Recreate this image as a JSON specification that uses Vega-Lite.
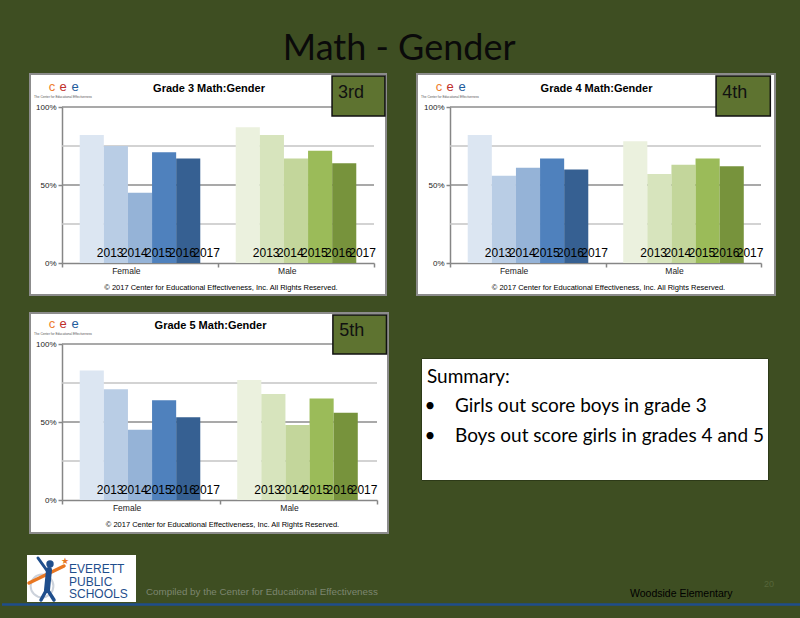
{
  "$schema": "https://vega.github.io/schema/vega-lite/v6.json",
  "background": "#3e4e22",
  "padding": {"top": 31, "left": 0, "right": 0, "bottom": 0},
  "title": {"text": "Math - Gender", "font": "Lato", "fontSize": 36, "fontWeight": "normal", "color": "#0a0a0a", "anchor": "start", "dx": 282, "offset": 5},
  "config": {
    "view": {"stroke": null},
    "text": {"font": "Liberation Sans"},
    "axis": {"domainColor": "#868686", "domainWidth": 1.5, "tickColor": "#868686", "tickWidth": 1.5, "tickSize": 4, "labelColor": "#1a1a1a", "labelFont": "Liberation Sans", "grid": false, "zindex": 1}
  },
  "datasets": {
    "scores": [
      {"grade": 3, "gender": "Female", "year": "2013", "pct": 0.82},
      {"grade": 3, "gender": "Female", "year": "2014", "pct": 0.75},
      {"grade": 3, "gender": "Female", "year": "2015", "pct": 0.45},
      {"grade": 3, "gender": "Female", "year": "2016", "pct": 0.71},
      {"grade": 3, "gender": "Female", "year": "2017", "pct": 0.67},
      {"grade": 3, "gender": "Male", "year": "2013", "pct": 0.87},
      {"grade": 3, "gender": "Male", "year": "2014", "pct": 0.82},
      {"grade": 3, "gender": "Male", "year": "2015", "pct": 0.67},
      {"grade": 3, "gender": "Male", "year": "2016", "pct": 0.72},
      {"grade": 3, "gender": "Male", "year": "2017", "pct": 0.64},
      {"grade": 4, "gender": "Female", "year": "2013", "pct": 0.82},
      {"grade": 4, "gender": "Female", "year": "2014", "pct": 0.56},
      {"grade": 4, "gender": "Female", "year": "2015", "pct": 0.61},
      {"grade": 4, "gender": "Female", "year": "2016", "pct": 0.67},
      {"grade": 4, "gender": "Female", "year": "2017", "pct": 0.60},
      {"grade": 4, "gender": "Male", "year": "2013", "pct": 0.78},
      {"grade": 4, "gender": "Male", "year": "2014", "pct": 0.57},
      {"grade": 4, "gender": "Male", "year": "2015", "pct": 0.63},
      {"grade": 4, "gender": "Male", "year": "2016", "pct": 0.67},
      {"grade": 4, "gender": "Male", "year": "2017", "pct": 0.62},
      {"grade": 5, "gender": "Female", "year": "2013", "pct": 0.83},
      {"grade": 5, "gender": "Female", "year": "2014", "pct": 0.71},
      {"grade": 5, "gender": "Female", "year": "2015", "pct": 0.45},
      {"grade": 5, "gender": "Female", "year": "2016", "pct": 0.64},
      {"grade": 5, "gender": "Female", "year": "2017", "pct": 0.53},
      {"grade": 5, "gender": "Male", "year": "2013", "pct": 0.77},
      {"grade": 5, "gender": "Male", "year": "2014", "pct": 0.68},
      {"grade": 5, "gender": "Male", "year": "2015", "pct": 0.48},
      {"grade": 5, "gender": "Male", "year": "2016", "pct": 0.65},
      {"grade": 5, "gender": "Male", "year": "2017", "pct": 0.56}
    ]
  },
  "spacing": 16,
  "vconcat": [
    {
      "hconcat": [
        {"width": 27, "height": 10, "data": {"values": []}, "mark": "point", "encoding": {}},
        {
          "width": 356, "height": 221,
          "view": {"fill": "#ffffff", "stroke": "#8c8c8c", "strokeWidth": 2},
          "resolve": {"scale": {"color": "independent"}},
          "layer": [
            {"data": {"values": [{"level": 0.25}, {"level": 0.75}]},
             "mark": {"type": "rule", "color": "#c4c4c4", "strokeWidth": 1.5},
             "encoding": {"x": {"datum": "Female", "type": "nominal", "bandPosition": 0}, "x2": {"datum": "Male", "bandPosition": 1}, "y": {"field": "level", "type": "quantitative"}}},
            {"data": {"values": [{"level": 0.5}, {"level": 1}]},
             "mark": {"type": "rule", "color": "#8c8c8c", "strokeWidth": 1.5},
             "encoding": {"x": {"datum": "Female", "type": "nominal", "bandPosition": 0}, "x2": {"datum": "Male", "bandPosition": 1}, "y": {"field": "level", "type": "quantitative"}}},
            {"data": {"name": "scores"},
             "transform": [{"filter": "datum.grade == 3 && datum.gender == 'Female'"}],
             "mark": "bar",
             "encoding": {
               "x": {"field": "gender", "type": "nominal", "scale": {"type": "band", "domain": ["Female", "Male"], "range": [32, 344], "paddingInner": 0, "paddingOuter": 0}, "axis": {"title": null, "offset": -32, "tickBand": "extent", "labelAngle": 0, "labelFontSize": 8.5, "labelPadding": 3}},
               "xOffset": {"field": "year", "type": "nominal", "scale": {"paddingInner": 0, "paddingOuter": 0.735}},
               "y": {"field": "pct", "type": "quantitative", "scale": {"domain": [0, 1], "range": [189, 33], "nice": false}, "axis": {"title": null, "offset": -32, "values": [0, 0.5, 1], "format": ".0%", "labelFontSize": 8, "labelPadding": 2}},
               "color": {"field": "year", "type": "nominal", "scale": {"range": ["#dce6f2", "#b9cde5", "#95b3d7", "#4f81bd", "#366092"]}, "legend": null}}},
            {"data": {"name": "scores"},
             "transform": [{"filter": "datum.grade == 3 && datum.gender == 'Male'"}],
             "mark": "bar",
             "encoding": {
               "x": {"field": "gender", "type": "nominal"},
               "xOffset": {"field": "year", "type": "nominal"},
               "y": {"field": "pct", "type": "quantitative"},
               "color": {"field": "year", "type": "nominal", "scale": {"range": ["#ebf1de", "#d7e4bd", "#c3d69b", "#9bbb59", "#77933c"]}, "legend": null}}},
            {"data": {"name": "scores"},
             "transform": [{"filter": "datum.grade == 3"}],
             "mark": {"type": "text", "align": "left", "baseline": "alphabetic", "dx": 5, "dy": -6, "fontSize": 12, "color": "#000000"},
             "encoding": {"x": {"field": "gender", "type": "nominal"}, "xOffset": {"field": "year", "type": "nominal"}, "y": {"datum": 0, "type": "quantitative"}, "text": {"field": "year"}}},
            {"data": {"values": [{}]},
             "mark": {"type": "text", "fontWeight": "bold", "fontSize": 11, "baseline": "middle", "dx": -9, "color": "#000000"},
             "encoding": {"x": {"datum": "Male", "type": "nominal", "bandPosition": 0}, "y": {"datum": 1.115, "type": "quantitative"}, "text": {"value": "Grade 3 Math:Gender"}}},
            {"data": {"values": [{}]},
             "mark": {"type": "text", "fontSize": 7.5, "baseline": "middle", "dx": 3, "color": "#000000"},
             "encoding": {"x": {"datum": "Male", "type": "nominal", "bandPosition": 0}, "y": {"datum": -0.16, "type": "quantitative"}, "text": {"value": "© 2017 Center for Educational Effectiveness, Inc. All Rights Reserved."}}},
            {"data": {"values": [{}]},
             "mark": {"type": "text", "fontSize": 13, "baseline": "middle", "dx": -10, "color": "#ee7d2e"},
             "encoding": {"x": {"datum": "Female", "type": "nominal", "bandPosition": 0}, "y": {"datum": 1.131, "type": "quantitative"}, "text": {"value": "c"}}},
            {"data": {"values": [{}]},
             "mark": {"type": "text", "fontSize": 13, "baseline": "middle", "dx": 1, "color": "#c0302b"},
             "encoding": {"x": {"datum": "Female", "type": "nominal", "bandPosition": 0}, "y": {"datum": 1.131, "type": "quantitative"}, "text": {"value": "e"}}},
            {"data": {"values": [{}]},
             "mark": {"type": "text", "fontSize": 13, "baseline": "middle", "dx": 13, "color": "#1f5c9c"},
             "encoding": {"x": {"datum": "Female", "type": "nominal", "bandPosition": 0}, "y": {"datum": 1.131, "type": "quantitative"}, "text": {"value": "e"}}},
            {"data": {"values": [{}]},
             "mark": {"type": "text", "fontSize": 3.2, "align": "left", "baseline": "middle", "dx": -28, "color": "#555555"},
             "encoding": {"x": {"datum": "Female", "type": "nominal", "bandPosition": 0}, "y": {"datum": 1.067, "type": "quantitative"}, "text": {"value": "The Center for Educational Effectiveness"}}},
            {"data": {"values": [{}]},
             "mark": {"type": "rect", "fill": "#5e7330", "stroke": "#111111", "strokeWidth": 1.5},
             "encoding": {"x": {"datum": "Male", "type": "nominal", "bandPosition": 0.731}, "x2": {"datum": "Male", "bandPosition": 1.07}, "y": {"datum": 1.199, "type": "quantitative"}, "y2": {"datum": 0.942}}},
            {"data": {"values": [{}]},
             "mark": {"type": "text", "fontSize": 18, "align": "left", "baseline": "alphabetic", "color": "#111111"},
             "encoding": {"x": {"datum": "Male", "type": "nominal", "bandPosition": 0.769}, "y": {"datum": 1.058, "type": "quantitative"}, "text": {"value": "3rd"}}}
          ]
        },
        {"width": 29, "height": 10, "data": {"values": []}, "mark": "point", "encoding": {}},
        {
          "width": 358, "height": 221,
          "view": {"fill": "#ffffff", "stroke": "#8c8c8c", "strokeWidth": 2},
          "resolve": {"scale": {"color": "independent"}},
          "layer": [
            {"data": {"values": [{"level": 0.25}, {"level": 0.75}]},
             "mark": {"type": "rule", "color": "#c4c4c4", "strokeWidth": 1.5},
             "encoding": {"x": {"datum": "Female", "type": "nominal", "bandPosition": 0}, "x2": {"datum": "Male", "bandPosition": 1}, "y": {"field": "level", "type": "quantitative"}}},
            {"data": {"values": [{"level": 0.5}, {"level": 1}]},
             "mark": {"type": "rule", "color": "#8c8c8c", "strokeWidth": 1.5},
             "encoding": {"x": {"datum": "Female", "type": "nominal", "bandPosition": 0}, "x2": {"datum": "Male", "bandPosition": 1}, "y": {"field": "level", "type": "quantitative"}}},
            {"data": {"name": "scores"},
             "transform": [{"filter": "datum.grade == 4 && datum.gender == 'Female'"}],
             "mark": "bar",
             "encoding": {
               "x": {"field": "gender", "type": "nominal", "scale": {"type": "band", "domain": ["Female", "Male"], "range": [33, 344], "paddingInner": 0, "paddingOuter": 0}, "axis": {"title": null, "offset": -32, "tickBand": "extent", "labelAngle": 0, "labelFontSize": 8.5, "labelPadding": 3}},
               "xOffset": {"field": "year", "type": "nominal", "scale": {"paddingInner": 0, "paddingOuter": 0.735}},
               "y": {"field": "pct", "type": "quantitative", "scale": {"domain": [0, 1], "range": [189, 33], "nice": false}, "axis": {"title": null, "offset": -33, "values": [0, 0.5, 1], "format": ".0%", "labelFontSize": 8, "labelPadding": 2}},
               "color": {"field": "year", "type": "nominal", "scale": {"range": ["#dce6f2", "#b9cde5", "#95b3d7", "#4f81bd", "#366092"]}, "legend": null}}},
            {"data": {"name": "scores"},
             "transform": [{"filter": "datum.grade == 4 && datum.gender == 'Male'"}],
             "mark": "bar",
             "encoding": {
               "x": {"field": "gender", "type": "nominal"},
               "xOffset": {"field": "year", "type": "nominal"},
               "y": {"field": "pct", "type": "quantitative"},
               "color": {"field": "year", "type": "nominal", "scale": {"range": ["#ebf1de", "#d7e4bd", "#c3d69b", "#9bbb59", "#77933c"]}, "legend": null}}},
            {"data": {"name": "scores"},
             "transform": [{"filter": "datum.grade == 4"}],
             "mark": {"type": "text", "align": "left", "baseline": "alphabetic", "dx": 5, "dy": -6, "fontSize": 12, "color": "#000000"},
             "encoding": {"x": {"field": "gender", "type": "nominal"}, "xOffset": {"field": "year", "type": "nominal"}, "y": {"datum": 0, "type": "quantitative"}, "text": {"field": "year"}}},
            {"data": {"values": [{}]},
             "mark": {"type": "text", "fontWeight": "bold", "fontSize": 11, "baseline": "middle", "dx": -9, "color": "#000000"},
             "encoding": {"x": {"datum": "Male", "type": "nominal", "bandPosition": 0}, "y": {"datum": 1.115, "type": "quantitative"}, "text": {"value": "Grade 4 Math:Gender"}}},
            {"data": {"values": [{}]},
             "mark": {"type": "text", "fontSize": 7.5, "baseline": "middle", "dx": 3, "color": "#000000"},
             "encoding": {"x": {"datum": "Male", "type": "nominal", "bandPosition": 0}, "y": {"datum": -0.16, "type": "quantitative"}, "text": {"value": "© 2017 Center for Educational Effectiveness, Inc. All Rights Reserved."}}},
            {"data": {"values": [{}]},
             "mark": {"type": "text", "fontSize": 13, "baseline": "middle", "dx": -11, "color": "#ee7d2e"},
             "encoding": {"x": {"datum": "Female", "type": "nominal", "bandPosition": 0}, "y": {"datum": 1.131, "type": "quantitative"}, "text": {"value": "c"}}},
            {"data": {"values": [{}]},
             "mark": {"type": "text", "fontSize": 13, "baseline": "middle", "dx": 0, "color": "#c0302b"},
             "encoding": {"x": {"datum": "Female", "type": "nominal", "bandPosition": 0}, "y": {"datum": 1.131, "type": "quantitative"}, "text": {"value": "e"}}},
            {"data": {"values": [{}]},
             "mark": {"type": "text", "fontSize": 13, "baseline": "middle", "dx": 12, "color": "#1f5c9c"},
             "encoding": {"x": {"datum": "Female", "type": "nominal", "bandPosition": 0}, "y": {"datum": 1.131, "type": "quantitative"}, "text": {"value": "e"}}},
            {"data": {"values": [{}]},
             "mark": {"type": "text", "fontSize": 3.2, "align": "left", "baseline": "middle", "dx": -29, "color": "#555555"},
             "encoding": {"x": {"datum": "Female", "type": "nominal", "bandPosition": 0}, "y": {"datum": 1.067, "type": "quantitative"}, "text": {"value": "The Center for Educational Effectiveness"}}},
            {"data": {"values": [{}]},
             "mark": {"type": "rect", "fill": "#5e7330", "stroke": "#111111", "strokeWidth": 1.5},
             "encoding": {"x": {"datum": "Male", "type": "nominal", "bandPosition": 0.711}, "x2": {"datum": "Male", "bandPosition": 1.06}, "y": {"datum": 1.199, "type": "quantitative"}, "y2": {"datum": 0.942}}},
            {"data": {"values": [{}]},
             "mark": {"type": "text", "fontSize": 18, "align": "left", "baseline": "alphabetic", "color": "#111111"},
             "encoding": {"x": {"datum": "Male", "type": "nominal", "bandPosition": 0.75}, "y": {"datum": 1.058, "type": "quantitative"}, "text": {"value": "4th"}}}
          ]
        }
      ],
      "spacing": 0
    },
    {
      "hconcat": [
        {"width": 27, "height": 10, "data": {"values": []}, "mark": "point", "encoding": {}},
        {
          "width": 358, "height": 220,
          "view": {"fill": "#ffffff", "stroke": "#8c8c8c", "strokeWidth": 2},
          "resolve": {"scale": {"color": "independent"}},
          "layer": [
            {"data": {"values": [{"level": 0.25}, {"level": 0.75}]},
             "mark": {"type": "rule", "color": "#c4c4c4", "strokeWidth": 1.5},
             "encoding": {"x": {"datum": "Female", "type": "nominal", "bandPosition": 0}, "x2": {"datum": "Male", "bandPosition": 1}, "y": {"field": "level", "type": "quantitative"}}},
            {"data": {"values": [{"level": 0.5}, {"level": 1}]},
             "mark": {"type": "rule", "color": "#8c8c8c", "strokeWidth": 1.5},
             "encoding": {"x": {"datum": "Female", "type": "nominal", "bandPosition": 0}, "x2": {"datum": "Male", "bandPosition": 1}, "y": {"field": "level", "type": "quantitative"}}},
            {"data": {"name": "scores"},
             "transform": [{"filter": "datum.grade == 5 && datum.gender == 'Female'"}],
             "mark": "bar",
             "encoding": {
               "x": {"field": "gender", "type": "nominal", "scale": {"type": "band", "domain": ["Female", "Male"], "range": [32, 347], "paddingInner": 0, "paddingOuter": 0}, "axis": {"title": null, "offset": -33, "tickBand": "extent", "labelAngle": 0, "labelFontSize": 8.5, "labelPadding": 3}},
               "xOffset": {"field": "year", "type": "nominal", "scale": {"paddingInner": 0, "paddingOuter": 0.735}},
               "y": {"field": "pct", "type": "quantitative", "scale": {"domain": [0, 1], "range": [187, 31], "nice": false}, "axis": {"title": null, "offset": -32, "values": [0, 0.5, 1], "format": ".0%", "labelFontSize": 8, "labelPadding": 2}},
               "color": {"field": "year", "type": "nominal", "scale": {"range": ["#dce6f2", "#b9cde5", "#95b3d7", "#4f81bd", "#366092"]}, "legend": null}}},
            {"data": {"name": "scores"},
             "transform": [{"filter": "datum.grade == 5 && datum.gender == 'Male'"}],
             "mark": "bar",
             "encoding": {
               "x": {"field": "gender", "type": "nominal"},
               "xOffset": {"field": "year", "type": "nominal"},
               "y": {"field": "pct", "type": "quantitative"},
               "color": {"field": "year", "type": "nominal", "scale": {"range": ["#ebf1de", "#d7e4bd", "#c3d69b", "#9bbb59", "#77933c"]}, "legend": null}}},
            {"data": {"name": "scores"},
             "transform": [{"filter": "datum.grade == 5"}],
             "mark": {"type": "text", "align": "left", "baseline": "alphabetic", "dx": 5, "dy": -6, "fontSize": 12, "color": "#000000"},
             "encoding": {"x": {"field": "gender", "type": "nominal"}, "xOffset": {"field": "year", "type": "nominal"}, "y": {"datum": 0, "type": "quantitative"}, "text": {"field": "year"}}},
            {"data": {"values": [{}]},
             "mark": {"type": "text", "fontWeight": "bold", "fontSize": 11, "baseline": "middle", "dx": -9, "color": "#000000"},
             "encoding": {"x": {"datum": "Male", "type": "nominal", "bandPosition": 0}, "y": {"datum": 1.115, "type": "quantitative"}, "text": {"value": "Grade 5 Math:Gender"}}},
            {"data": {"values": [{}]},
             "mark": {"type": "text", "fontSize": 7.5, "baseline": "middle", "dx": 3, "color": "#000000"},
             "encoding": {"x": {"datum": "Male", "type": "nominal", "bandPosition": 0}, "y": {"datum": -0.16, "type": "quantitative"}, "text": {"value": "© 2017 Center for Educational Effectiveness, Inc. All Rights Reserved."}}},
            {"data": {"values": [{}]},
             "mark": {"type": "text", "fontSize": 13, "baseline": "middle", "dx": -10, "color": "#ee7d2e"},
             "encoding": {"x": {"datum": "Female", "type": "nominal", "bandPosition": 0}, "y": {"datum": 1.131, "type": "quantitative"}, "text": {"value": "c"}}},
            {"data": {"values": [{}]},
             "mark": {"type": "text", "fontSize": 13, "baseline": "middle", "dx": 1, "color": "#c0302b"},
             "encoding": {"x": {"datum": "Female", "type": "nominal", "bandPosition": 0}, "y": {"datum": 1.131, "type": "quantitative"}, "text": {"value": "e"}}},
            {"data": {"values": [{}]},
             "mark": {"type": "text", "fontSize": 13, "baseline": "middle", "dx": 13, "color": "#1f5c9c"},
             "encoding": {"x": {"datum": "Female", "type": "nominal", "bandPosition": 0}, "y": {"datum": 1.131, "type": "quantitative"}, "text": {"value": "e"}}},
            {"data": {"values": [{}]},
             "mark": {"type": "text", "fontSize": 3.2, "align": "left", "baseline": "middle", "dx": -28, "color": "#555555"},
             "encoding": {"x": {"datum": "Female", "type": "nominal", "bandPosition": 0}, "y": {"datum": 1.067, "type": "quantitative"}, "text": {"value": "The Center for Educational Effectiveness"}}},
            {"data": {"values": [{}]},
             "mark": {"type": "rect", "fill": "#5e7330", "stroke": "#111111", "strokeWidth": 1.5},
             "encoding": {"x": {"datum": "Male", "type": "nominal", "bandPosition": 0.72}, "x2": {"datum": "Male", "bandPosition": 1.06}, "y": {"datum": 1.186, "type": "quantitative"}, "y2": {"datum": 0.936}}},
            {"data": {"values": [{}]},
             "mark": {"type": "text", "fontSize": 18, "align": "left", "baseline": "alphabetic", "color": "#111111"},
             "encoding": {"x": {"datum": "Male", "type": "nominal", "bandPosition": 0.76}, "y": {"datum": 1.05, "type": "quantitative"}, "text": {"value": "5th"}}}
          ]
        },
        {"width": 31, "height": 10, "data": {"values": []}, "mark": "point", "encoding": {}},
        {
          "vconcat": [
            {"width": 10, "height": 44, "data": {"values": []}, "mark": "point", "encoding": {}},
            {
              "width": 347, "height": 122,
              "view": {"fill": "#ffffff", "stroke": "#2d3a18", "strokeWidth": 1},
              "data": {"values": [
                {"n": 1, "line": "Summary:"},
                {"n": 2, "line": "Girls out score boys in grade 3"},
                {"n": 3, "line": "Boys out score girls in grades 4 and 5"}
              ]},
              "layer": [
                {"transform": [{"filter": "datum.n == 1"}],
                 "mark": {"type": "text", "align": "left", "baseline": "alphabetic", "font": "Lato", "fontSize": 19, "color": "#000000"},
                 "encoding": {"x": {"datum": 6, "type": "quantitative", "scale": {"domain": [0, 347], "nice": false, "zero": false}, "axis": null},
                              "y": {"field": "n", "type": "quantitative", "scale": {"domain": [0.153, 4.289], "reverse": true, "nice": false, "zero": false}, "axis": null},
                              "text": {"field": "line"}}},
                {"transform": [{"filter": "datum.n > 1"}],
                 "mark": {"type": "text", "align": "center", "baseline": "alphabetic", "font": "Lato", "fontSize": 19, "color": "#000000"},
                 "encoding": {"x": {"datum": 9, "type": "quantitative"},
                              "y": {"field": "n", "type": "quantitative"},
                              "text": {"value": "•"}}},
                {"transform": [{"filter": "datum.n > 1"}],
                 "mark": {"type": "text", "align": "left", "baseline": "alphabetic", "font": "Lato", "fontSize": 19, "color": "#000000"},
                 "encoding": {"x": {"datum": 34, "type": "quantitative"},
                              "y": {"field": "n", "type": "quantitative"},
                              "text": {"field": "line"}}}
              ]
            }
          ],
          "spacing": 0
        }
      ],
      "spacing": 0
    },
    {
      "width": 800, "height": 69,
      "layer": [
        {"data": {"values": [{}]},
         "mark": {"type": "rule", "color": "#1f4e8c", "strokeWidth": 2.5},
         "encoding": {"x": {"datum": 0, "type": "quantitative", "scale": {"domain": [0, 800], "nice": false, "zero": false}, "axis": null}, "x2": {"datum": 800},
                      "y": {"datum": 603.5, "type": "quantitative", "scale": {"domain": [549, 618], "reverse": true, "nice": false, "zero": false}, "axis": null}}},
        {"data": {"values": [{}]},
         "mark": {"type": "rect", "fill": "#ffffff"},
         "encoding": {"x": {"datum": 25, "type": "quantitative"}, "x2": {"datum": 134}, "y": {"datum": 554, "type": "quantitative"}, "y2": {"datum": 601}}},
        {"data": {"values": [{}]},
         "mark": {"type": "point", "filled": false, "stroke": "#b7bfcc", "strokeWidth": 2, "size": 520},
         "encoding": {"x": {"datum": 40, "type": "quantitative"}, "y": {"datum": 585, "type": "quantitative"}}},
        {"data": {"values": [{}]},
         "mark": {"type": "rule", "color": "#e87722", "strokeWidth": 3.5, "strokeCap": "round"},
         "encoding": {"x": {"datum": 27, "type": "quantitative"}, "x2": {"datum": 62}, "y": {"datum": 582, "type": "quantitative"}, "y2": {"datum": 565}}},
        {"data": {"values": [{}]},
         "mark": {"type": "rule", "color": "#1f4e8c", "strokeWidth": 6, "strokeCap": "round"},
         "encoding": {"x": {"datum": 47, "type": "quantitative"}, "x2": {"datum": 45}, "y": {"datum": 569, "type": "quantitative"}, "y2": {"datum": 589}}},
        {"data": {"values": [{}]},
         "mark": {"type": "rule", "color": "#1f4e8c", "strokeWidth": 3.5, "strokeCap": "round"},
         "encoding": {"x": {"datum": 45, "type": "quantitative"}, "x2": {"datum": 39}, "y": {"datum": 588, "type": "quantitative"}, "y2": {"datum": 599}}},
        {"data": {"values": [{}]},
         "mark": {"type": "rule", "color": "#1f4e8c", "strokeWidth": 3.5, "strokeCap": "round"},
         "encoding": {"x": {"datum": 45, "type": "quantitative"}, "x2": {"datum": 52}, "y": {"datum": 588, "type": "quantitative"}, "y2": {"datum": 599}}},
        {"data": {"values": [{}]},
         "mark": {"type": "rule", "color": "#1f4e8c", "strokeWidth": 3, "strokeCap": "round"},
         "encoding": {"x": {"datum": 36, "type": "quantitative"}, "x2": {"datum": 46}, "y": {"datum": 557, "type": "quantitative"}, "y2": {"datum": 571}}},
        {"data": {"values": [{}]},
         "mark": {"type": "point", "filled": true, "color": "#1f4e8c", "opacity": 1, "size": 55},
         "encoding": {"x": {"datum": 48, "type": "quantitative"}, "y": {"datum": 563, "type": "quantitative"}}},
        {"data": {"values": [{}]},
         "mark": {"type": "text", "fontSize": 9, "color": "#e87722", "baseline": "middle"},
         "encoding": {"x": {"datum": 63, "type": "quantitative"}, "y": {"datum": 560, "type": "quantitative"}, "text": {"value": "★"}}},
        {"data": {"values": [{}]},
         "mark": {"type": "text", "fontSize": 12, "color": "#1f4e8c", "align": "left", "baseline": "middle"},
         "encoding": {"x": {"datum": 67, "type": "quantitative"}, "y": {"datum": 568, "type": "quantitative"}, "text": {"value": "EVERETT"}}},
        {"data": {"values": [{}]},
         "mark": {"type": "text", "fontSize": 12, "color": "#1f4e8c", "align": "left", "baseline": "middle"},
         "encoding": {"x": {"datum": 67, "type": "quantitative"}, "y": {"datum": 580.5, "type": "quantitative"}, "text": {"value": "PUBLIC"}}},
        {"data": {"values": [{}]},
         "mark": {"type": "text", "fontSize": 12, "color": "#1f4e8c", "align": "left", "baseline": "middle"},
         "encoding": {"x": {"datum": 67, "type": "quantitative"}, "y": {"datum": 593, "type": "quantitative"}, "text": {"value": "SCHOOLS"}}},
        {"data": {"values": [{}]},
         "mark": {"type": "text", "fontSize": 9.8, "color": "#7d8670", "align": "left", "baseline": "middle"},
         "encoding": {"x": {"datum": 144, "type": "quantitative"}, "y": {"datum": 591, "type": "quantitative"}, "text": {"value": "Compiled by the Center for Educational Effectiveness"}}},
        {"data": {"values": [{}]},
         "mark": {"type": "text", "fontSize": 10.5, "color": "#000000", "align": "left", "baseline": "middle"},
         "encoding": {"x": {"datum": 628, "type": "quantitative"}, "y": {"datum": 593, "type": "quantitative"}, "text": {"value": "Woodside Elementary"}}},
        {"data": {"values": [{}]},
         "mark": {"type": "text", "fontSize": 9, "color": "#56663a", "align": "left", "baseline": "middle"},
         "encoding": {"x": {"datum": 762, "type": "quantitative"}, "y": {"datum": 583, "type": "quantitative"}, "text": {"value": "20"}}}
      ]
    }
  ]
}
